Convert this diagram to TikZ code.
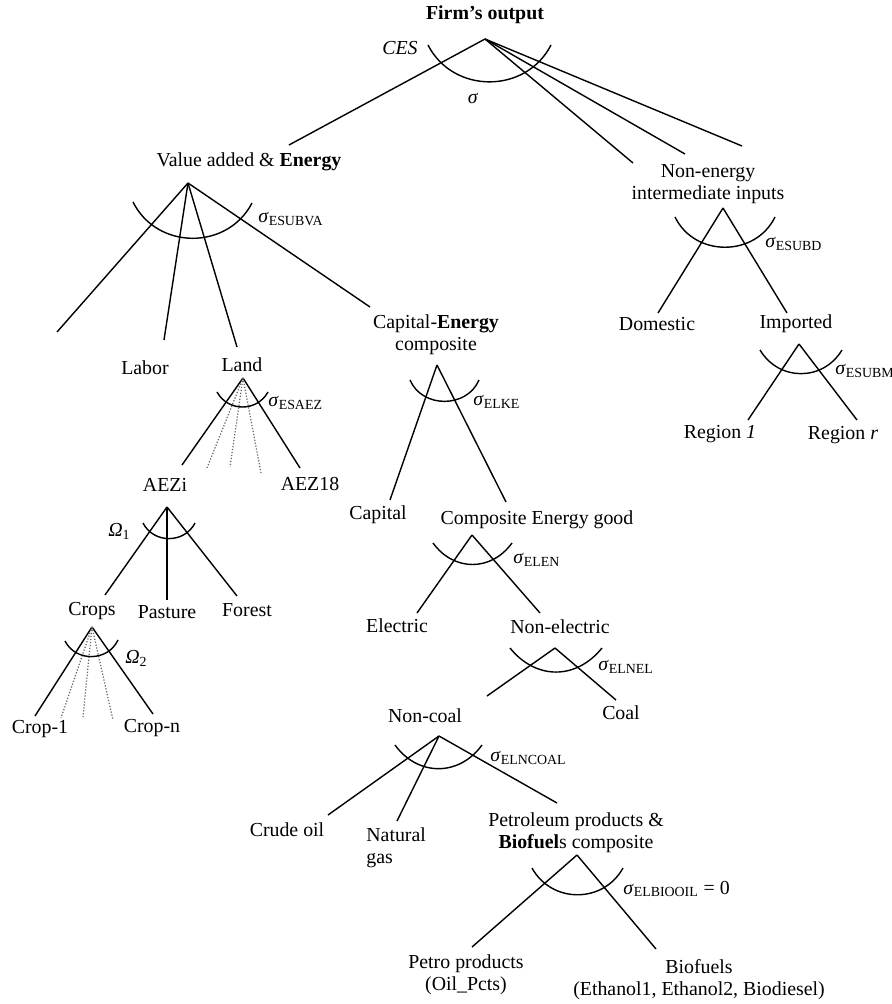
\documentclass[tikz,border=0pt]{standalone}
\usepackage{fontspec}
\setmainfont{Liberation Serif}
\newcommand{\sig}[1]{\textit{σ}\textsubscript{#1}}

\begin{document}
\begin{tikzpicture}[x=0.2mm, y=-0.2mm,
every node/.style={font=\fontsize{11.3}{12.5}\selectfont, inner sep=0pt, align=center},
branch/.style={line width=0.8pt},
faint/.style={densely dotted, line width=0.7pt, black!60},
elas/.style={line width=0.8pt, bend right=#1, looseness=1.15}
]
\useasboundingbox (0,0) rectangle (891,1004);

% labels
\node (firm) at (485,15) {\textbf{Firm's output}};
\node (ces) at (400,48) {\textit{CES}};
\node (sig) at (473,98) {\textit{σ}};
\node (va) at (249,162) {Value added \& \textbf{Energy}};
\node (nonen) at (708,184) {Non-energy\\intermediate inputs};
\node (labor) at (145,368) {Labor};
\node (land) at (242,365) {Land};
\node (ke) at (436,335) {Capital-\textbf{Energy}\\composite};
\node (domestic) at (657,324) {Domestic};
\node (imported) at (796,324) {Imported};
\node (reg1) at (720,434) {Region \textit{1}};
\node (regr) at (843,435) {Region \textit{r}};
\node (aezi) at (165,485) {AEZi};
\node (aez18) at (310,484) {AEZ18};
\node (capital) at (378,515) {Capital};
\node (ceg) at (537,520) {Composite Energy good};
\node (crops) at (92,611) {Crops};
\node (pasture) at (167,612) {Pasture};
\node (forest) at (247,610) {Forest};
\node (electric) at (397,626) {Electric};
\node (nonel) at (560,627) {Non-electric};
\node (coal) at (621,713) {Coal};
\node (crop1) at (40,729) {Crop-1};
\node (cropn) at (152,728) {Crop-n};
\node (noncoal) at (425,716) {Non-coal};
\node (crude) at (287,830) {Crude oil};
\node[anchor=north west, align=left] (natgas) at (366,827) {Natural\\gas};
\node (petbio) at (576,833) {Petroleum products \&\\\textbf{Biofuel}s composite};
\node (petro) at (466,975) {Petro products\\(Oil\_Pcts)};
\node (biof) at (699,980) {Biofuels\\(Ethanol1, Ethanol2, Biodiesel)};

% elasticities
\node[anchor=west] (s-va) at (258,219) {\sig{ESUBVA}};
\node[anchor=west] (s-d) at (765,244) {\sig{ESUBD}};
\node[anchor=west] (s-m) at (835,371) {\sig{ESUBM}};
\node[anchor=west] (s-aez) at (268,403) {\sig{ESAEZ}};
\node[anchor=west] (s-ke) at (473,402) {\sig{ELKE}};
\node[anchor=west] (om1) at (108,531) {\textit{Ω}\textsubscript{1}};
\node[anchor=west] (s-en) at (513,560) {\sig{ELEN}};
\node[anchor=west] (om2) at (125,658) {\textit{Ω}\textsubscript{2}};
\node[anchor=west] (s-nel) at (598,667) {\sig{ELNEL}};
\node[anchor=west] (s-nc) at (490,758) {\sig{ELNCOAL}};
\node[anchor=west] (s-bio) at (623,889) {\sig{ELBIOOIL} = 0};

% branch points
\coordinate (firm-a) at (485,39);
\coordinate (va-a) at (188,183);
\coordinate (nonen-a) at (723,208);
\coordinate (imp-a) at (799,344);
\coordinate (land-a) at (243,378);
\coordinate (ke-a) at (437,365);
\coordinate (aezi-a) at (167,507);
\coordinate (ceg-a) at (472,535);
\coordinate (crops-a) at (92,627);
\coordinate (nonel-a) at (555,648);
\coordinate (noncoal-a) at (439,736);
\coordinate (petbio-a) at (577,855);

% branch ends
\coordinate (to-va) at (289,145);
\coordinate (to-n1) at (633,163);
\coordinate (to-n2) at (685,154);
\coordinate (to-n3) at (742,146);
\coordinate (to-free) at (57,332);
\coordinate (to-labor) at (164,340);
\coordinate (to-land) at (237,347);
\coordinate (to-ke) at (370,307);
\coordinate (to-dom) at (658,313);
\coordinate (to-imp) at (787,313);
\coordinate (to-reg1) at (748,420);
\coordinate (to-regr) at (857,420);
\coordinate (to-aezi) at (182,465);
\coordinate (to-aez18) at (300,468);
\coordinate (to-aez-a) at (207,468);
\coordinate (to-aez-b) at (230,467);
\coordinate (to-aez-c) at (261,473);
\coordinate (to-capital) at (390,500);
\coordinate (to-ceg) at (506,502);
\coordinate (to-crops) at (105,595);
\coordinate (to-pasture) at (167,600);
\coordinate (to-forest) at (237,596);
\coordinate (to-electric) at (417,613);
\coordinate (to-nonel) at (540,613);
\coordinate (to-noncoal) at (487,696);
\coordinate (to-coal) at (616,700);
\coordinate (to-crop1) at (35,716);
\coordinate (to-cropn) at (153,714);
\coordinate (to-crop-a) at (61,718);
\coordinate (to-crop-b) at (83,717);
\coordinate (to-crop-c) at (113,720);
\coordinate (to-crude) at (328,815);
\coordinate (to-natgas) at (397,821);
\coordinate (to-petbio) at (557,803);
\coordinate (to-petro) at (472,947);
\coordinate (to-biof) at (656,949);

% branches
\draw[branch] (firm-a) -- (to-va);
\draw[branch] (firm-a) -- (to-n1);
\draw[branch] (firm-a) -- (to-n2);
\draw[branch] (firm-a) -- (to-n3);
\draw[branch] (va-a) -- (to-free);
\draw[branch] (va-a) -- (to-labor);
\draw[branch] (va-a) -- (to-land);
\draw[branch] (va-a) -- (to-ke);
\draw[branch] (nonen-a) -- (to-dom);
\draw[branch] (nonen-a) -- (to-imp);
\draw[branch] (imp-a) -- (to-reg1);
\draw[branch] (imp-a) -- (to-regr);
\draw[branch] (land-a) -- (to-aezi);
\draw[branch] (land-a) -- (to-aez18);
\draw[faint] (land-a) -- (to-aez-a);
\draw[faint] (land-a) -- (to-aez-b);
\draw[faint] (land-a) -- (to-aez-c);
\draw[branch] (ke-a) -- (to-capital);
\draw[branch] (ke-a) -- (to-ceg);
\draw[branch] (aezi-a) -- (to-crops);
\draw[branch] (aezi-a) -- (to-pasture);
\draw[branch] (aezi-a) -- (to-forest);
\draw[branch] (ceg-a) -- (to-electric);
\draw[branch] (ceg-a) -- (to-nonel);
\draw[branch] (crops-a) -- (to-crop1);
\draw[branch] (crops-a) -- (to-cropn);
\draw[faint] (crops-a) -- (to-crop-a);
\draw[faint] (crops-a) -- (to-crop-b);
\draw[faint] (crops-a) -- (to-crop-c);
\draw[branch] (nonel-a) -- (to-noncoal);
\draw[branch] (nonel-a) -- (to-coal);
\draw[branch] (noncoal-a) -- (to-crude);
\draw[branch] (noncoal-a) -- (to-natgas);
\draw[branch] (noncoal-a) -- (to-petbio);
\draw[branch] (petbio-a) -- (to-petro);
\draw[branch] (petbio-a) -- (to-biof);

% substitution arcs
\draw[elas=63] (428,45) to (551,45);
\draw[elas=63] (133,202) to (252,203);
\draw[elas=64] (675,217) to (775,217);
\draw[elas=59] (760,350) to (842,350);
\draw[elas=61] (217,392) to (268,392);
\draw[elas=67] (410,380) to (479,380);
\draw[elas=63] (143,523) to (195,523);
\draw[elas=54] (433,543) to (512,543);
\draw[elas=64] (65,641) to (118,640);
\draw[elas=51] (510,648) to (602,648);
\draw[elas=54] (395,745) to (482,745);
\draw[elas=61] (532,868) to (623,868);
\end{tikzpicture}
\end{document}
